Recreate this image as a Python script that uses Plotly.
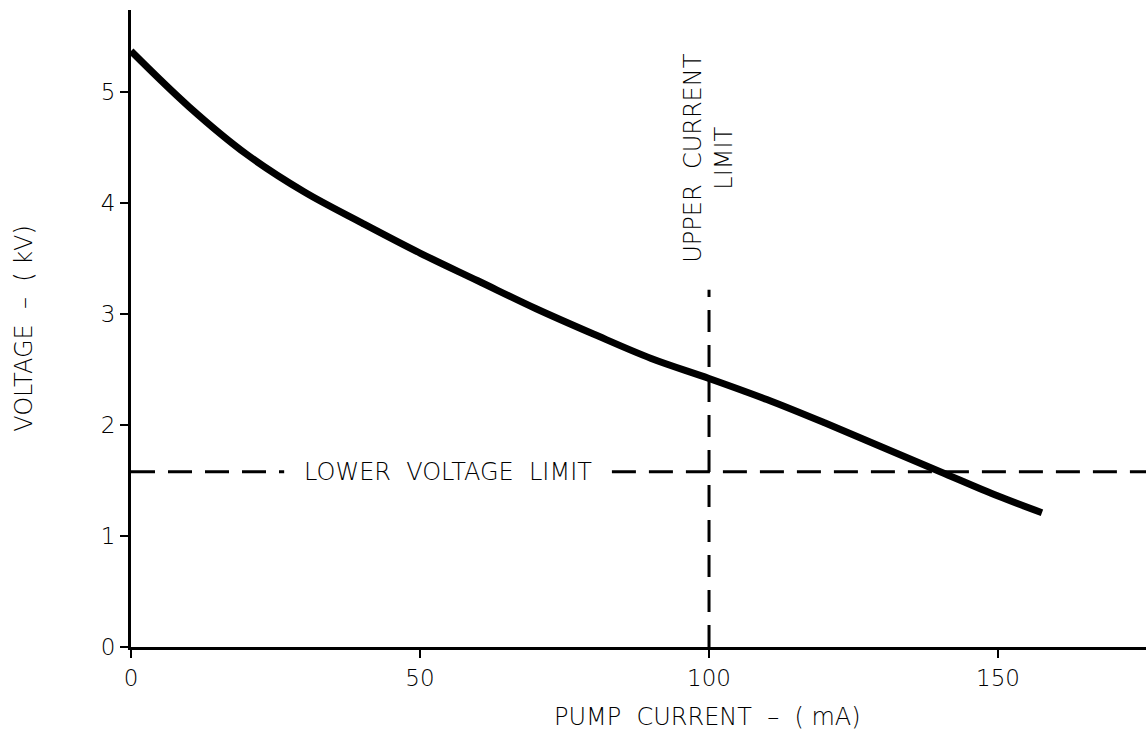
import plotly.graph_objects as go

# Data
current_ma = [0, 10, 20, 30, 40, 50, 60, 70, 80, 90, 100, 110, 120, 130, 140, 150, 157.6]
voltage_kv = [5.37, 4.87, 4.44, 4.10, 3.82, 3.55, 3.30, 3.05, 2.82, 2.60, 2.42, 2.23, 2.02,
              1.80, 1.58, 1.36, 1.21]

lower_voltage_limit_kv = 1.58
upper_current_limit_ma = 100
upper_limit_line_top_kv = 3.22
label_gap_ma = [26.5, 83.2]   # gap in the dashed lower-limit line for its label
x_end = 175.6
y_end = 5.74

x_ticks = [0, 50, 100, 150]
y_ticks = [0, 1, 2, 3, 4, 5]

TXT = dict(family="DejaVu Sans, sans-serif", size=24, color="black", weight=200)
TICK = dict(family="DejaVu Sans, sans-serif", size=23, color="black", weight=200)
NB = "\u00a0"

fig = go.Figure()

# Lower voltage limit (dashed, with gap for label)
fig.add_trace(go.Scatter(
    x=[0, label_gap_ma[0], None, label_gap_ma[1], x_end],
    y=[lower_voltage_limit_kv] * 2 + [None] + [lower_voltage_limit_kv] * 2,
    mode="lines", line=dict(color="black", width=3, dash="24px,13px"),
    hoverinfo="skip", showlegend=False, cliponaxis=False))

# Upper current limit (dashed vertical)
fig.add_trace(go.Scatter(
    x=[upper_current_limit_ma, upper_current_limit_ma],
    y=[0, upper_limit_line_top_kv],
    mode="lines", line=dict(color="black", width=3, dash="22px,13px"),
    hoverinfo="skip", showlegend=False))

# Main curve
fig.add_trace(go.Scatter(
    x=current_ma, y=voltage_kv, mode="lines",
    line=dict(color="black", width=7, shape="spline", smoothing=1.0),
    showlegend=False))

fig.add_annotation(
    x=sum(label_gap_ma) / 2, y=lower_voltage_limit_kv,
    text=f"LOWER{NB}{NB}VOLTAGE{NB}{NB}LIMIT", showarrow=False,
    font=TXT, xanchor="center", yanchor="middle")

fig.add_annotation(
    x=upper_current_limit_ma, y=4.4,
    text=f"UPPER{NB}{NB}CURRENT<br>LIMIT", showarrow=False, textangle=-90,
    font=TXT, xanchor="center", yanchor="middle")

fig.add_annotation(
    x=(707 - 131) / (1146 - 131), xref="paper", y=0, yref="paper", yshift=-70,
    text=f"PUMP{NB}{NB}CURRENT{NB}{NB}–{NB}{NB}({NB}mA)", showarrow=False,
    font=TXT, xanchor="center", yanchor="middle")

fig.update_layout(
    width=1146, height=736,
    margin=dict(l=131, r=0, t=10, b=89),
    plot_bgcolor="white", paper_bgcolor="white",
    font=TXT,
)

fig.update_xaxes(
    range=[0, x_end], tickvals=x_ticks, ticktext=[str(v) for v in x_ticks],
    showgrid=False, zeroline=False, showline=True, linecolor="black", linewidth=3,
    ticks="outside", ticklen=8, tickwidth=1.5, tickcolor="black",
    tickfont=TICK)

fig.update_yaxes(
    range=[0, y_end], tickvals=y_ticks, ticktext=[str(v) for v in y_ticks],
    showgrid=False, zeroline=False, showline=True, linecolor="black", linewidth=3,
    ticks="outside", ticklen=8, tickwidth=1.5, tickcolor="black",
    tickfont=TICK,
    title=dict(text=f"VOLTAGE{NB}{NB}–{NB}{NB}({NB}kV)", font=TXT, standoff=62))

fig.write_html("out.html")
